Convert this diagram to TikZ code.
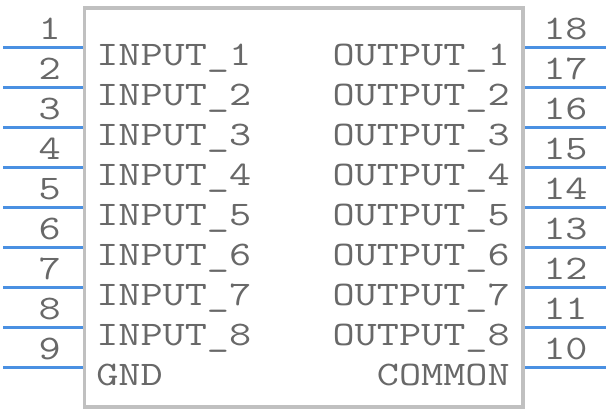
\documentclass[tikz,border=0pt]{standalone}
\usepackage{fontspec}
\setmonofont[FakeStretch=1.25]{Latin Modern Mono}
\usetikzlibrary{calc}
\definecolor{pinblue}{RGB}{74,144,226}
\definecolor{boxgray}{RGB}{192,192,192}
\definecolor{txtgray}{RGB}{104,104,104}
\tikzset{
  pinline/.style={draw=pinblue,line width=2.6pt},
  pinnum/.style={inner sep=0pt,text=txtgray,font=\ttfamily\fontsize{25.8}{25.8}\selectfont},
  pinname/.style={inner sep=0pt,text=txtgray,font=\ttfamily\fontsize{25.8}{25.8}\selectfont}
}
\begin{document}
\begin{tikzpicture}[x=0.75pt,y=-0.75pt]
        \useasboundingbox (0,0) rectangle (608,412);
        %body
        \draw[boxgray,line width=2.3pt] (84.5,8) rectangle (523,407);
        %left pins 1..9
        \foreach \n in {1,...,9} {
        \pgfmathsetmacro{\py}{7.5+40*\n}
        \coordinate (lo\n) at (3,\py);
        \coordinate (li\n) at (83,\py);
        \draw[pinline] (lo\n) -- (li\n);
        \node[pinnum,anchor=base east] (ln\n) at ($(li\n)+(-22,-8.5)$) {\n};}
        %right pins 10..18
        \foreach \n in {10,...,18} {
        \pgfmathsetmacro{\py}{7.5+40*(19-\n)}
        \coordinate (ri\n) at (525,\py);
        \coordinate (ro\n) at (606,\py);
        \draw[pinline] (ri\n) -- (ro\n);
        \node[pinnum,anchor=base west] (rn\n) at ($(ri\n)+(18,-8.5)$) {\n};}
        %names
        \foreach \n in {1,...,8} {
        \node[pinname,anchor=base west] (in\n) at ($(li\n)+(13,17.5)$) {INPUT\_\n};
        \pgfmathtruncatemacro{\m}{19-\n}
        \node[pinname,anchor=base east] (out\n) at ($(ri\m)+(-15,17.5)$) {OUTPUT\_\n};}
        \node[pinname,anchor=base west] (gnd) at ($(li9)+(13,17.5)$) {GND};
        \node[pinname,anchor=base east] (com) at ($(ri10)+(-15,17.5)$) {COMMON};
\end{tikzpicture}
\end{document}
